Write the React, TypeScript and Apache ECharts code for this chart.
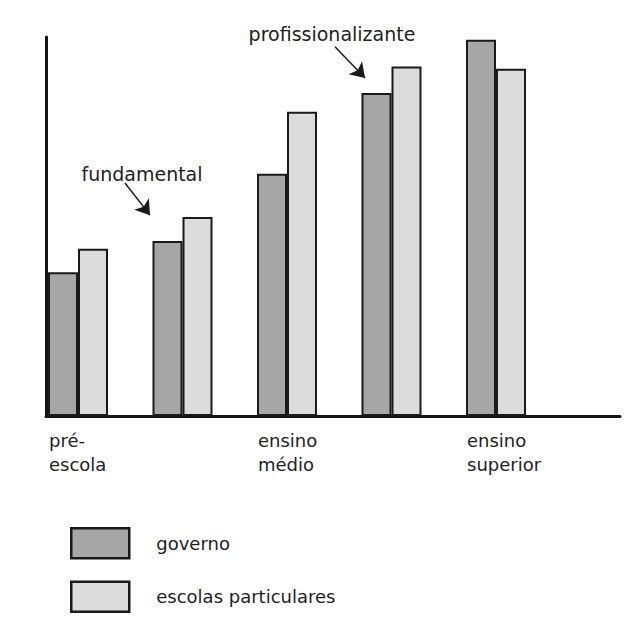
import React, { useEffect, useRef } from "react";
import * as echarts from "echarts";

// Categories (education levels)
const categories = ["pré-escola", "fundamental", "ensino médio", "profissionalizante", "ensino superior"];
// Tick labels shown under the axis (only some levels are labelled there)
const tickLabels = ["pré-\nescola", "", "ensino\nmédio", "", "ensino\nsuperior"];
// Series values (relative height, 0–100)
const governo = [37.9, 46.2, 63.9, 85.2, 99.3];
const particulares = [44.1, 52.5, 80.3, 92.2, 91.6];
// Annotated levels (index into categories)
const annotated = [1, 3];

const FONT = "DejaVu Sans";

export default function App() {
  const ref = useRef<HTMLDivElement>(null);
  useEffect(() => {
    if (!ref.current) return;
    const chart = echarts.init(ref.current, null, { renderer: "svg" });
    const xMin = -0.3062;
    const xMax = 5.1866;
    const labelShift = 0.2775;
    const option: any = {
      animation: false,
      backgroundColor: "#ffffff",
      grid: { left: 46, top: 37, right: 18, bottom: 209, containLabel: false },
      xAxis: [
        {
          type: "value",
          min: xMin,
          max: xMax,
          axisLine: { show: true, onZero: false, lineStyle: { color: "#141414", width: 3 } },
          axisTick: { show: false },
          axisLabel: { show: false },
          splitLine: { show: false },
        },
        {
          type: "value",
          position: "bottom",
          min: xMin + labelShift,
          max: xMax + labelShift,
          axisLine: { show: false, onZero: false },
          axisTick: { show: false },
          splitLine: { show: false },
          axisLabel: {
            show: true,
            customValues: [0, 2, 4],
            align: "left",
            margin: 12,
            fontSize: 18,
            lineHeight: 24,
            fontFamily: FONT,
            color: "#222",
            formatter: (v: number) => {
              const i = Math.round(v);
              if (Math.abs(v - i) > 1e-6) return "";
              return tickLabels[i] ?? "";
            },
          },
        },
      ],
      yAxis: {
        type: "value",
        min: 0,
        max: 100,
        axisLine: { show: true, onZero: false, lineStyle: { color: "#141414", width: 3 } },
        axisTick: { show: false },
        axisLabel: { show: false },
        splitLine: { show: false },
      },
      legend: {
        orient: "vertical",
        left: 70,
        top: 527,
        padding: 0,
        itemWidth: 58,
        itemHeight: 30,
        itemGap: 21,
        icon: "rect",
        selectedMode: false,
        itemStyle: { borderColor: "#1a1a1a", borderWidth: 2.5 },
        textStyle: { fontSize: 18, fontFamily: FONT, color: "#222", padding: [0, 0, 0, 22] },
        data: ["governo", "escolas particulares"],
      },
      series: [
        {
          name: "governo",
          type: "bar",
          xAxisIndex: 0,
          barWidth: 30,
          barGap: "0%",
          itemStyle: { color: "#a6a6a6", borderColor: "#1a1a1a", borderWidth: 2 },
          emphasis: { disabled: true },
          data: governo.map((v, i) => [i, v]),
          markLine: {
            silent: true,
            symbol: ["none", "arrow"],
            symbolSize: 14,
            label: { show: false },
            lineStyle: { color: "#1a1a1a", width: 1.5, type: "solid" },
            emphasis: { disabled: true },
            data: [
              [{ coord: [0.593, 61.5] }, { coord: [0.833, 53.0] }],
              [{ coord: [2.603, 97.4] }, { coord: [2.89, 89.2] }],
            ],
          },
          markPoint: {
            silent: true,
            symbol: "circle",
            symbolSize: 0,
            data: [
              {
                coord: [0.756, 63.85],
                label: {
                  show: true,
                  position: "inside",
                  formatter: categories[annotated[0]],
                  fontSize: 19,
                  fontFamily: FONT,
                  color: "#222",
                },
              },
              {
                coord: [2.603, 97.4],
                label: {
                  show: true,
                  position: "inside",
                  offset: [-3, -13],
                  formatter: categories[annotated[1]],
                  fontSize: 19,
                  fontFamily: FONT,
                  color: "#222",
                },
              },
            ],
          },
        },
        {
          name: "escolas particulares",
          type: "bar",
          xAxisIndex: 0,
          barWidth: 30,
          barGap: "0%",
          itemStyle: { color: "#dcdcdc", borderColor: "#1a1a1a", borderWidth: 2 },
          emphasis: { disabled: true },
          data: particulares.map((v, i) => [i, v]),
        },
      ],
    };
    chart.setOption(option);
    return () => chart.dispose();
  }, []);
  return (
    <div
      ref={ref}
      style={{ position: "fixed", left: 0, top: 0, width: 638, height: 625, background: "#fff" }}
    />
  );
}
